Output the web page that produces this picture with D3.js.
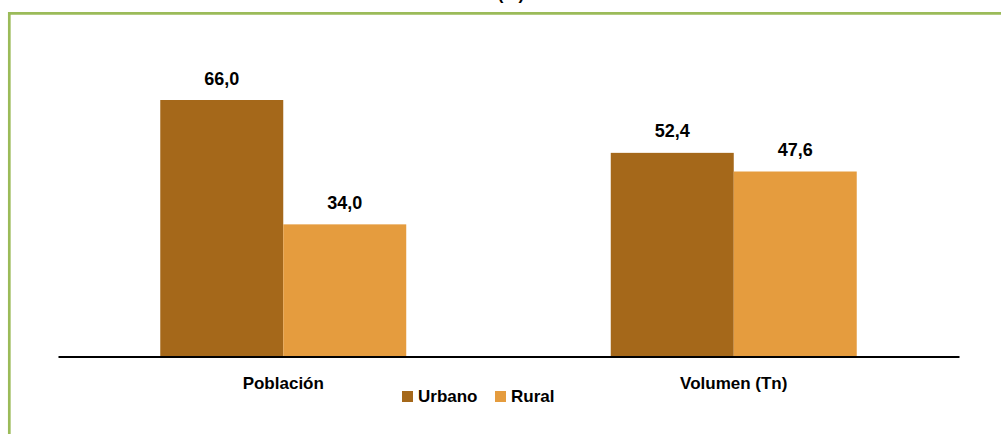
<!DOCTYPE html>
<html lang="es">
<head>
<meta charset="UTF-8">
<title>Chart</title>
<script src="https://cdn.jsdelivr.net/npm/d3@7"></script>
<style>
  body { margin: 0; background: #fff; }
  svg { display: block; font-family: "Liberation Sans", Arial, sans-serif; }
  .lbl { font-weight: bold; fill: #000; }
</style>
</head>
<body>
<div id="root"></div>
<script>
  // data
  let categories = ["Población", "Volumen (Tn)"]
  let seriesNames = ["Urbano", "Rural"]
  let urbano = [66.0, 52.4]
  let rural = [34.0, 47.6]
  let colors = ["#A5681A", "#E59C3E"]

  let width = 1001, height = 434
  let svg = d3.select("#root").append("svg").attr("width", width).attr("height", height)

  // frame (green border left + top)
  svg.append("path")
    .attr("d", "M9.3,434 V13.3 H1001")
    .attr("fill", "none").attr("stroke", "#9BBB59").attr("stroke-width", 2.7)

  // clipped title above frame
  svg.append("text").attr("class", "lbl")
    .attr("x", 511).attr("y", 0).attr("text-anchor", "middle")
    .style("font-size", "17px").text("(%)")

  let x0 = 58, x1 = 959, baseY = 356.5
  let x = d3.scaleBand().domain(categories).range([x0, x1]).paddingInner(0.454).paddingOuter(0.227)
  let xs = d3.scaleBand().domain(seriesNames).range([0, x.bandwidth()])
  let y = d3.scaleLinear().domain([0, 66]).range([baseY, 100])

  let rows = categories.map((c, i) => ({ cat: c, vals: [urbano[i], rural[i]] }))

  let g = svg.selectAll("g.cat").data(rows).enter().append("g")
    .attr("class", "cat")
    .attr("transform", d => "translate(" + x(d.cat) + ",0)")

  g.selectAll("rect").data(d => d.vals.map((v, i) => ({ s: seriesNames[i], v: v, i: i })))
    .enter().append("rect")
    .attr("x", d => xs(d.s))
    .attr("y", d => y(d.v))
    .attr("width", xs.bandwidth())
    .attr("height", d => baseY - y(d.v))
    .attr("fill", d => colors[d.i])

  g.selectAll("text.val").data(d => d.vals.map((v, i) => ({ s: seriesNames[i], v: v })))
    .enter().append("text")
    .attr("class", "lbl val")
    .attr("x", d => xs(d.s) + xs.bandwidth() / 2)
    .attr("y", d => y(d.v) - 15.5)
    .attr("text-anchor", "middle")
    .style("font-size", "18px")
    .text(d => d3.format(".1f")(d.v).replace(".", ","))

  // axis line
  let xAxis = d3.axisBottom(x).tickSize(0).tickPadding(20)
  let ax = svg.append("g").attr("transform", "translate(0," + baseY + ")").call(xAxis)
  ax.select(".domain").attr("stroke", "#000").attr("stroke-width", 2)
  ax.selectAll(".tick text").attr("class", "lbl")
    .style("font-size", "17px").style("font-family", "Liberation Sans, Arial, sans-serif")
    .attr("dy", "0.71em").attr("y", 20)

  // legend
  let legendX = [402, 495]
  let leg = svg.selectAll("g.leg").data(seriesNames).enter().append("g")
    .attr("class", "leg")
    .attr("transform", (d, i) => "translate(" + legendX[i] + ",391)")
  leg.append("rect").attr("width", 11).attr("height", 11).attr("fill", (d, i) => colors[i])
  leg.append("text").attr("class", "lbl").attr("x", 16).attr("y", 11)
    .style("font-size", "17px").text(d => d)
</script>
</body>
</html>
